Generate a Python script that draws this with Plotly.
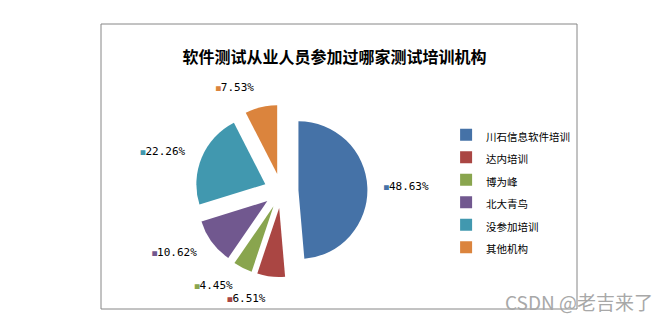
import plotly.graph_objects as go

categories = ["川石信息软件培训", "达内培训", "博为峰", "北大青鸟", "没参加培训", "其他机构"]
shares = [48.63, 6.51, 4.45, 10.62, 22.26, 7.53]
colors = ["#4572A7", "#AA4643", "#89A54E", "#71588F", "#4198AF", "#DB843D"]
title_text = "软件测试从业人员参加过哪家测试培训机构"

label_texts = [
    f"<span style='font-size:8px;color:{c}'>■</span><span style='color:#000000'>{v:.2f}%</span>"
    for v, c in zip(shares, colors)
]
legend_labels = [f"<span style='font-size:10.5px'>{c}</span>" for c in categories]

fig = go.Figure()

# the visible, exploded pie
fig.add_trace(
    go.Pie(
        labels=legend_labels,
        values=shares,
        sort=False,
        direction="clockwise",
        rotation=0,
        pull=0.25,
        marker=dict(colors=colors, line=dict(width=0)),
        textinfo="none",
        domain=dict(x=[0.1975, 0.5597], y=[0.112, 0.717]),
        automargin=False,
        hoverinfo="skip",
    )
)

# same data on a wider, transparent ring: only used to place the data labels further out
fig.add_trace(
    go.Pie(
        labels=legend_labels,
        values=shares,
        sort=False,
        direction="clockwise",
        rotation=0,
        marker=dict(colors=["rgba(0,0,0,0)"] * len(shares), line=dict(width=0)),
        text=label_texts,
        textinfo="text",
        textposition="outside",
        outsidetextfont=dict(family="DejaVu Sans Mono", size=11, color="#ffffff"),
        domain=dict(x=[0.168, 0.588], y=[0.063, 0.765]),
        automargin=False,
        showlegend=False,
        hoverinfo="skip",
    )
)

fig.update_layout(
    width=669,
    height=322,
    margin=dict(l=101, r=92, t=24, b=13, autoexpand=False),
    paper_bgcolor="white",
    plot_bgcolor="white",
    title=dict(
        text=title_text,
        x=0.5,
        xref="container",
        y=1 - 57 / 322,
        yref="container",
        xanchor="center",
        yanchor="middle",
        font=dict(family="Noto Sans CJK SC", size=16, color="#000000", weight="bold"),
    ),
    legend=dict(
        x=0.725,
        y=0.414,
        xanchor="left",
        yanchor="middle",
        font=dict(family="Noto Sans CJK SC", size=15, color="#000000"),
        bgcolor="rgba(0,0,0,0)",
    ),
    shapes=[
        dict(
            type="rect",
            xref="paper",
            yref="paper",
            x0=0,
            x1=1,
            y0=0,
            y1=1,
            line=dict(color="#868686", width=1),
            fillcolor="rgba(0,0,0,0)",
            layer="below",
        )
    ],
    annotations=[
        dict(
            text="CSDN @老吉来了",
            xref="paper",
            yref="paper",
            x=(655 - 101) / 476,
            y=(309 - 301) / 285,
            xanchor="right",
            yanchor="middle",
            showarrow=False,
            font=dict(family="Noto Sans CJK SC", size=19, color="#a8a8a8"),
        )
    ],
)

fig.write_html("out.html")
